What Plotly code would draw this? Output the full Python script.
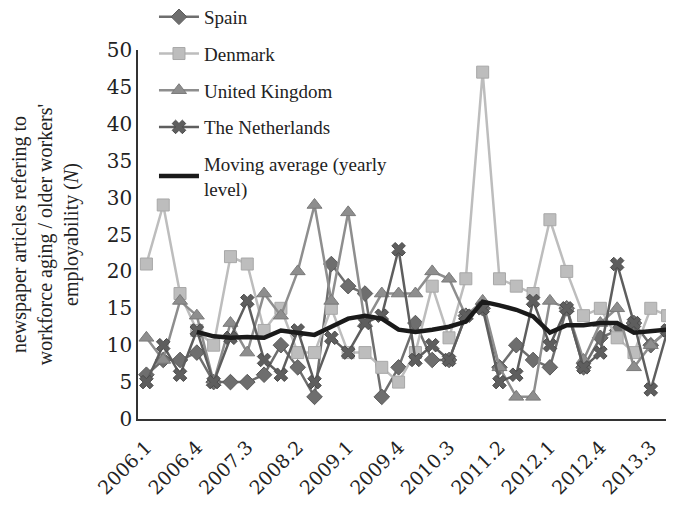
import plotly.graph_objects as go

quarters = [f"{y}.{q}" for y in range(2006, 2014) for q in range(1, 5)]
tick_labels = ["2006.1", "2006.4", "2007.3", "2008.2", "2009.1", "2009.4",
               "2010.3", "2011.2", "2012.1", "2012.4", "2013.3"]

spain = [6, 8, 8, 9, 5, 5, 5, 6, 10, 7, 3, 21, 18, 17, 3, 7,
         13, 8, 8, 14, 15, 7, 10, 8, 7, 15, 7, 11, 12, 13, 10, 12]
denmark = [21, 29, 17, 12, 10, 22, 21, 12, 15, 9, 9, 15, 9, 9, 7, 5,
           9, 18, 11, 19, 47, 19, 18, 17, 27, 20, 14, 15, 11, 9, 15, 14]
uk = [11, 8, 16, 14, 5, 13, 9, 17, 14, 20, 29, 16, 28, 13, 17, 17,
      17, 20, 19, 14, 16, 7, 3, 3, 16, 15, 8, 13, 15, 7, 10, 12]
netherlands = [5, 10, 6, 12, 5, 11, 16, 8, 6, 12, 5, 11, 9, 13, 14, 23,
               8, 10, 8, 14, 15, 5, 6, 16, 10, 15, 7, 9, 21, 13, 4, 12]
moving_avg = [None, None, None, 11.8, 11.2, 11.0, 11.1, 11.0, 12.0, 11.7, 11.4, 12.5,
              13.6, 14.0, 13.6, 12.1, 11.8, 12.1, 12.5, 13.2, 15.9, 15.4, 14.8, 13.9,
              11.7, 12.7, 12.7, 13.0, 13.0, 11.7, 11.9, 12.1]

tick_font = "DejaVu Serif, Liberation Serif, serif"
legend_font = "Liberation Serif, DejaVu Serif, serif"

fig = go.Figure()

series = [
    ("Spain", spain, "#6e6e6e", "#5a5a5a", "diamond", 12),
    ("Denmark", denmark, "#bdbdbd", "#a8a8a8", "square", 12),
    ("United Kingdom", uk, "#8e8e8e", "#7a7a7a", "triangle-up", 13),
    ("The Netherlands", netherlands, "#5e5e5e", "#4a4a4a", "x", 12),
]
for i, (name, vals, col, lcol, sym, size) in enumerate(series):
    fig.add_trace(go.Scatter(
        x=quarters, y=vals, name=name, mode="lines+markers",
        line=dict(color=col, width=2.5),
        marker=dict(symbol=sym, size=size, color=col, line=dict(color=lcol, width=1)),
        legendgroup=f"g{i}",
    ))

fig.add_trace(go.Scatter(
    x=quarters, y=moving_avg, name="Moving average (yearly<br>level)", mode="lines",
    line=dict(color="#1a1a1a", width=4.5), legendgroup="g4",
))

fig.update_layout(
    width=674, height=508,
    margin=dict(l=130, r=6, t=42, b=97, autoexpand=False),
    paper_bgcolor="white", plot_bgcolor="white",
    font=dict(family=tick_font, size=19, color="#222222"),
    showlegend=True,
    legend=dict(
        x=0.0297, y=1.141, xanchor="left", yanchor="top",
        bgcolor="rgba(0,0,0,0)", font=dict(family=legend_font, size=19, color="#222222"),
        tracegroupgap=9, itemwidth=40,
    ),
    xaxis=dict(
        type="category", range=[-0.5, 31.5],
        tickmode="array", tickvals=tick_labels, ticktext=tick_labels,
        tickangle=-45, showgrid=False, showline=True, linecolor="#333333", linewidth=1.5,
        ticks="", tickfont=dict(size=19), automargin=False, ticklabelstandoff=8,
    ),
    yaxis=dict(
        range=[0, 50], dtick=5, showgrid=False, showline=True,
        linecolor="#333333", linewidth=1.5, ticks="", zeroline=False,
        tickfont=dict(size=20), automargin=False,
        title=dict(
            text="newspaper articles refering to<br>workforce aging / older workers'<br>employability (<i>N</i>)",
            font=dict(family=legend_font, size=20), standoff=42,
        ),
    ),
)

fig.write_html("out.html")
